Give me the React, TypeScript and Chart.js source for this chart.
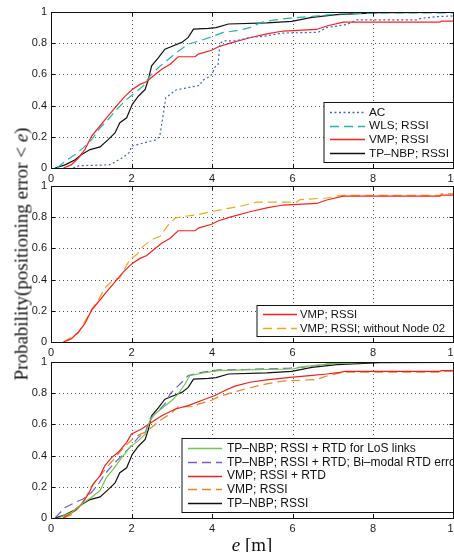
import React, { useEffect, useRef } from "react";
import { Chart, registerables } from "chart.js";
Chart.register(...registerables);

const xTickValues = [0, 2, 4, 6, 8, 10];
const yTickValues = [0, 0.2, 0.4, 0.6, 0.8, 1];

// AC
const acX = [0.55, 0.7, 1.45, 1.6, 1.8, 1.95, 2.0, 2.3, 2.6, 2.7, 2.75, 2.8, 2.85, 2.95, 3.1, 3.5, 3.7, 3.75, 3.9, 4.0, 4.08, 4.15, 4.2, 4.3, 4.6, 4.9, 5.3, 5.77, 6.64, 6.85, 7.1, 7.35, 7.6, 9.08, 9.2, 9.58, 10];
const acY = [0, 0.015, 0.02, 0.04, 0.07, 0.1, 0.14, 0.16, 0.18, 0.2, 0.28, 0.36, 0.45, 0.47, 0.5, 0.52, 0.53, 0.56, 0.58, 0.6, 0.65, 0.66, 0.8, 0.815, 0.815, 0.835, 0.845, 0.865, 0.87, 0.9, 0.91, 0.92, 0.95, 0.95, 0.96, 0.97, 0.975];

// WLS; RSSI
const wlsX = [0.15, 0.35, 0.6, 0.8, 1.01, 1.22, 1.42, 1.63, 1.88, 2.09, 2.29, 2.46, 2.67, 2.87, 3.12, 3.41, 3.7, 3.95, 4.28, 4.61, 4.94, 5.23, 5.52, 5.94, 6.43, 7.1, 8.34, 10];
const wlsY = [0, 0.043, 0.086, 0.129, 0.182, 0.258, 0.311, 0.375, 0.44, 0.483, 0.526, 0.59, 0.644, 0.687, 0.74, 0.794, 0.816, 0.837, 0.869, 0.88, 0.9, 0.934, 0.948, 0.961, 0.97, 0.987, 0.994, 0.995];

// VMP; RSSI
const vmpX = [0.31, 0.5, 0.68, 0.84, 1.01, 1.18, 1.38, 1.59, 1.8, 2.02, 2.21, 2.38, 2.54, 2.75, 2.96, 3.16, 3.58, 3.66, 3.99, 4.16, 4.45, 4.94, 5.36, 5.77, 6.6, 6.85, 7.26, 9.66, 9.7, 10];
const vmpY = [0, 0.02, 0.064, 0.118, 0.204, 0.258, 0.322, 0.386, 0.45, 0.504, 0.536, 0.554, 0.59, 0.633, 0.665, 0.713, 0.713, 0.73, 0.755, 0.777, 0.8, 0.835, 0.86, 0.878, 0.888, 0.91, 0.935, 0.935, 0.942, 0.942];

// TP-NBP; RSSI
const tpX = [0.1, 0.35, 0.6, 0.76, 0.97, 1.22, 1.42, 1.59, 1.71, 1.88, 2.02, 2.17, 2.34, 2.42, 2.5, 2.67, 2.83, 3.04, 3.25, 3.41, 3.54, 3.91, 4.1, 4.41, 5.36, 5.98, 6.48, 7.1, 8.17, 10];
const tpY = [0, 0.02, 0.053, 0.086, 0.118, 0.135, 0.182, 0.225, 0.29, 0.322, 0.408, 0.46, 0.504, 0.569, 0.655, 0.708, 0.762, 0.784, 0.805, 0.837, 0.89, 0.895, 0.9, 0.923, 0.93, 0.94, 0.966, 0.983, 0.996, 0.998];

// VMP; RSSI; without Node 02
const noNodeX = [0.31, 0.68, 1.01, 1.18, 1.34, 1.55, 1.71, 1.84, 1.96, 2.13, 2.29, 2.5, 2.71, 2.92, 3.09, 3.34, 3.66, 4.03, 4.37, 4.7, 5.11, 6.1, 6.19, 6.85, 7.18, 9.66, 9.7, 10];
const noNodeY = [0, 0.058, 0.208, 0.272, 0.346, 0.4, 0.41, 0.474, 0.528, 0.56, 0.613, 0.656, 0.678, 0.753, 0.795, 0.806, 0.817, 0.838, 0.855, 0.87, 0.897, 0.897, 0.913, 0.923, 0.94, 0.94, 0.951, 0.951];

// VMP; RSSI + RTD
const vmpRtdX = [0.3, 0.35, 0.6, 0.76, 0.93, 1.05, 1.22, 1.34, 1.51, 1.67, 1.88, 2.0, 2.25, 2.5, 2.75, 3.09, 3.41, 3.74, 4.07, 4.32, 4.57, 4.94, 5.36, 5.94, 6.43, 6.85, 7.18, 7.3, 9.66, 9.7, 10];
const vmpRtdY = [0, 0.01, 0.047, 0.09, 0.154, 0.218, 0.272, 0.336, 0.389, 0.421, 0.485, 0.538, 0.57, 0.613, 0.656, 0.699, 0.72, 0.753, 0.785, 0.817, 0.845, 0.87, 0.885, 0.902, 0.913, 0.923, 0.934, 0.94, 0.94, 0.945, 0.945];

// TP-NBP; RSSI + RTD for LoS links
const losX = [0.18, 0.51, 0.76, 1.01, 1.22, 1.38, 1.55, 1.76, 1.96, 2.17, 2.34, 2.46, 2.58, 2.79, 3.0, 3.16, 3.33, 3.45, 3.74, 4.16, 4.82, 6.0, 6.27, 7.01, 8.17, 10];
const losY = [0, 0.036, 0.09, 0.133, 0.176, 0.261, 0.314, 0.389, 0.453, 0.496, 0.538, 0.624, 0.667, 0.71, 0.753, 0.795, 0.859, 0.913, 0.928, 0.945, 0.95, 0.955, 0.97, 0.99, 1.0, 1.0];

// TP-NBP; RSSI + RTD; Bi-modal RTD error
const biX = [0.1, 0.35, 0.6, 0.8, 1.01, 1.18, 1.34, 1.55, 1.76, 1.96, 2.17, 2.34, 2.46, 2.63, 2.83, 2.96, 3.08, 3.25, 3.41, 3.74, 4.16, 4.82, 5.9, 6.4, 6.85, 7.18, 10];
const biY = [0, 0.068, 0.1, 0.122, 0.165, 0.218, 0.282, 0.346, 0.4, 0.453, 0.517, 0.549, 0.635, 0.678, 0.731, 0.795, 0.827, 0.87, 0.913, 0.934, 0.949, 0.952, 0.96, 0.97, 0.987, 0.997, 0.998];

type Series = { label: string; xs: number[]; ys: number[]; color: string; dash: number[] };

const panel1: Series[] = [
  { label: "AC", xs: acX, ys: acY, color: "#3a66c8", dash: [2, 2.5] },
  { label: "WLS; RSSI", xs: wlsX, ys: wlsY, color: "#26b3ad", dash: [9, 5] },
  { label: "VMP; RSSI", xs: vmpX, ys: vmpY, color: "#ff1e1e", dash: [] },
  { label: "TP\u2013NBP; RSSI", xs: tpX, ys: tpY, color: "#111111", dash: [] },
];
const panel2: Series[] = [
  { label: "VMP; RSSI", xs: vmpX, ys: vmpY, color: "#ff1e1e", dash: [] },
  { label: "VMP; RSSI; without Node 02", xs: noNodeX, ys: noNodeY, color: "#f0a818", dash: [9, 5] },
];
const panel3: Series[] = [
  { label: "TP\u2013NBP; RSSI + RTD for LoS links", xs: losX, ys: losY, color: "#6cc84a", dash: [] },
  { label: "TP\u2013NBP; RSSI + RTD; Bi\u2013modal RTD error", xs: biX, ys: biY, color: "#7a5cd0", dash: [9, 5] },
  { label: "VMP; RSSI + RTD", xs: vmpRtdX, ys: vmpRtdY, color: "#ee2020", dash: [] },
  { label: "VMP; RSSI", xs: vmpX, ys: vmpY, color: "#f08020", dash: [9, 5] },
  { label: "TP\u2013NBP; RSSI", xs: tpX, ys: tpY, color: "#111111", dash: [] },
];

type LegendCfg = { width: number; height: number; spacing: number; lineStart: number; lineEnd: number; textStart: number; fontSize: number };

const FONT = "'Liberation Sans', Arial, sans-serif";

function makeFramePlugin(series: Series[], lg: LegendCfg) {
  return {
    id: "frame",
    beforeDatasetsDraw(chart: any) {
      const { ctx, chartArea: a, scales } = chart;
      ctx.save();
      ctx.strokeStyle = "#555";
      ctx.lineWidth = 1;
      ctx.setLineDash([1, 3]);
      xTickValues.forEach((v) => {
        const p = Math.round(scales.x.getPixelForValue(v)) + 0.5;
        ctx.beginPath();
        ctx.moveTo(p, a.top);
        ctx.lineTo(p, a.bottom);
        ctx.stroke();
      });
      yTickValues.forEach((v) => {
        const p = Math.round(scales.y.getPixelForValue(v)) + 0.5;
        ctx.beginPath();
        ctx.moveTo(a.left, p);
        ctx.lineTo(a.right, p);
        ctx.stroke();
      });
      ctx.restore();
    },
    afterDatasetsDraw(chart: any) {
      const { ctx, chartArea: a, scales } = chart;
      ctx.save();
      ctx.setLineDash([]);
      ctx.strokeStyle = "#111";
      ctx.lineWidth = 1;
      const tl = 4;
      xTickValues.forEach((v) => {
        const p = Math.round(scales.x.getPixelForValue(v)) + 0.5;
        ctx.beginPath();
        ctx.moveTo(p, a.bottom);
        ctx.lineTo(p, a.bottom - tl);
        ctx.moveTo(p, a.top);
        ctx.lineTo(p, a.top + tl);
        ctx.stroke();
      });
      yTickValues.forEach((v) => {
        const p = Math.round(scales.y.getPixelForValue(v)) + 0.5;
        ctx.beginPath();
        ctx.moveTo(a.left, p);
        ctx.lineTo(a.left + tl, p);
        ctx.moveTo(a.right, p);
        ctx.lineTo(a.right - tl, p);
        ctx.stroke();
      });
      ctx.strokeRect(Math.round(a.left) + 0.5, Math.round(a.top) + 0.5, Math.round(a.right - a.left) - 1, Math.round(a.bottom - a.top));

      // legend
      const right = Math.round(a.right) - 0.5;
      const bottom = Math.round(a.bottom) - 5.5;
      const left = right - lg.width;
      const top = bottom - lg.height;
      ctx.fillStyle = "#fff";
      ctx.fillRect(left, top, lg.width, lg.height);
      ctx.strokeStyle = "#111";
      ctx.lineWidth = 1;
      ctx.strokeRect(left, top, lg.width, lg.height);
      const n = series.length;
      const first = top + (lg.height - (n - 1) * lg.spacing) / 2;
      ctx.font = `${lg.fontSize}px ${FONT}`;
      ctx.textBaseline = "middle";
      ctx.textAlign = "left";
      series.forEach((s, i) => {
        const y = first + i * lg.spacing;
        ctx.strokeStyle = s.color;
        ctx.lineWidth = 1.4;
        ctx.setLineDash(s.dash);
        ctx.beginPath();
        ctx.moveTo(left + lg.lineStart, Math.round(y) + 0.5);
        ctx.lineTo(left + lg.lineEnd, Math.round(y) + 0.5);
        ctx.stroke();
        ctx.setLineDash([]);
        ctx.fillStyle = "#111";
        ctx.fillText(s.label, left + lg.textStart, y + 0.5);
      });
      ctx.restore();
    },
  };
}

function makeConfig(series: Series[], lg: LegendCfg): any {
  return {
    type: "line",
    data: {
      datasets: series.map((s) => ({
        label: s.label,
        data: s.xs.map((x, i) => ({ x, y: s.ys[i] })),
        borderColor: s.color,
        borderWidth: 1.2,
        borderDash: s.dash,
        pointRadius: 0,
        fill: false,
        tension: 0,
      })),
    },
    options: {
      animation: false,
      responsive: false,
      maintainAspectRatio: false,
      layout: { padding: { top: 12, right: 16.5, bottom: 0, left: 0 } },
      plugins: { legend: { display: false }, tooltip: { enabled: false } },
      scales: {
        x: {
          type: "linear",
          min: 0,
          max: 10,
          grid: { display: false, drawTicks: false },
          border: { display: false },
          afterBuildTicks: (s: any) => {
            s.ticks = xTickValues.map((v) => ({ value: v }));
          },
          ticks: {
            font: { family: FONT, size: 11 },
            color: "#1a1a1a",
            padding: 4,
            maxRotation: 0,
            callback: (v: number) => String(v),
          },
          afterFit: (s: any) => {
            s.height = 18;
          },
        },
        y: {
          type: "linear",
          min: 0,
          max: 1,
          grid: { display: false, drawTicks: false },
          border: { display: false },
          afterBuildTicks: (s: any) => {
            s.ticks = yTickValues.map((v) => ({ value: v }));
          },
          ticks: {
            font: { family: FONT, size: 11 },
            color: "#1a1a1a",
            padding: 4,
            callback: (v: number) => String(Math.round(v * 10) / 10),
          },
          afterFit: (s: any) => {
            s.width = 51;
          },
        },
      },
    },
    plugins: [makeFramePlugin(series, lg)],
  };
}

function Panel({ top, series, legend }: { top: number; series: Series[]; legend: LegendCfg }) {
  const ref = useRef<HTMLCanvasElement>(null);
  useEffect(() => {
    const chart = new Chart(ref.current as HTMLCanvasElement, makeConfig(series, legend));
    return () => chart.destroy();
  }, []);
  return (
    <canvas
      ref={ref}
      width={470}
      height={186}
      style={{ position: "absolute", left: 0, top, width: 470, height: 186 }}
    />
  );
}

export default function App() {
  return (
    <div style={{ position: "absolute", left: 0, top: 0, width: 454, height: 552, overflow: "hidden", background: "#fff" }}>
      <Panel top={0} series={panel1} legend={{ width: 129.5, height: 60, spacing: 13.8, lineStart: 6, lineEnd: 41, textStart: 45, fontSize: 11.8 }} />
      <Panel top={174} series={panel2} legend={{ width: 196.5, height: 31, spacing: 14, lineStart: 6, lineEnd: 40, textStart: 43, fontSize: 11.3 }} />
      <Panel top={350} series={panel3} legend={{ width: 271.5, height: 74, spacing: 13.8, lineStart: 6, lineEnd: 40, textStart: 45, fontSize: 12 }} />
      <div
        style={{
          position: "absolute",
          left: 21,
          top: 254,
          transform: "translate(-50%, -50%) rotate(-90deg)",
          whiteSpace: "nowrap",
          fontFamily: "'Liberation Serif', serif",
          fontSize: 19,
          lineHeight: "19px",
          color: "#111",
        }}
      >
        Probability(positioning error &lt; <i>e</i>)
      </div>
      <div
        style={{
          position: "absolute",
          left: 252,
          top: 535,
          transform: "translateX(-50%)",
          whiteSpace: "nowrap",
          fontFamily: "'Liberation Serif', serif",
          fontSize: 19,
          lineHeight: "19px",
          color: "#111",
        }}
      >
        <i>e</i> [m]
      </div>
    </div>
  );
}
